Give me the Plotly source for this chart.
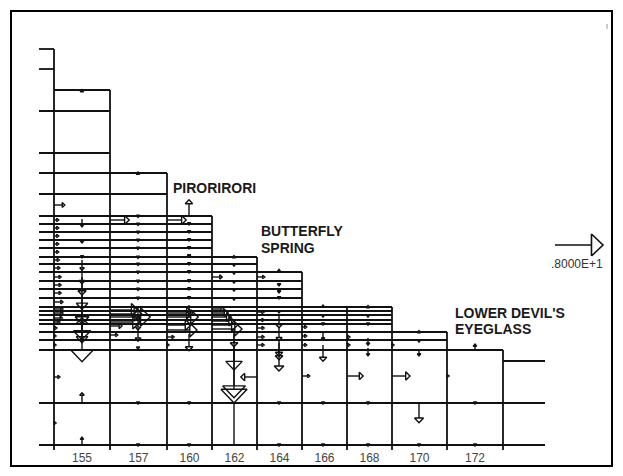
import math
import plotly.graph_objects as go

# ---------------- model grid (diagram units, x to the right, y downward) ----------------
col_edges = [54, 110, 167, 212, 257, 302, 347, 392, 447, 503, 545]
col_tops = [90, 173, 216, 257, 272, 307, 307, 332, 350, 361]
col_labels = ["155", "157", "160", "162", "164", "166", "168", "170", "172", ""]
stub_left = 39
stub_top = 49
layer_y = [49, 69, 111, 153, 173, 194, 216, 224, 232, 240, 248, 257, 264, 272, 281,
           289, 298, 307, 311, 315, 320, 324, 332, 340, 350, 403, 445]
tick_bottom = 450

# ---------------- velocity vectors: tail x, tail y, u (right +), v (down +) ----------------
SCALE = 6.0          # diagram units per velocity unit
LEGEND_VALUE = 8.0   # reference vector .8000E+1

# horizontal face vectors
hx = [54]*21 + [110]*7 + [167]*7 + [212]*7 + [257]*7 + [302]*4 + [347]*3 + [392]*2 + [447]
hy = [205, 220, 228, 236, 244, 252, 260, 268, 277, 285, 293, 302, 309, 313, 318, 322, 328, 336, 345, 377, 423,
      220, 310, 314, 317, 322, 326, 335,
      220, 313, 317, 325, 330, 337, 345,
      277, 309, 313, 317, 321, 325, 329,
      277, 312, 320, 328, 337, 345, 377,
      327, 336, 345, 376,
      337, 345, 376,
      345, 376,
      376]
hu = [1.8, 0.8, 0.8, 0.8, 0.8, 0.8, 0.9, 1.0, 1.2, 1.2, 1.2, 1.5, 1.5, 1.5, 1.4, 1.0, 0.5, 0.35, 0.35, 1.0, 0.35,
      3.2, 4.7, 5.3, 6.7, 5.0, 2.0, 1.3,
      3.2, 4.3, 5.2, 4.0, 5.0, 1.2, 0.35,
      1.7, 2.0, 2.7, 3.2, 3.7, 4.3, 5.0,
      1.3, 1.2, 1.2, 1.2, 1.2, 1.2, -2.7,
      0.8, 0.8, 0.8, 1.3,
      0.5, 0.5, 2.7,
      0.35, 3.0,
      0.35]

# vertical vectors at column centres
vx = ([82]*15 + [138]*18 + [189]*15 + [234]*10 + [279]*12 + [323]*7 + [368]*7 + [419]*5 + [475]*3)
vy = [92, 219, 240, 255, 260, 270, 277, 284, 294, 343, 302, 317, 312, 403, 445,
      175, 216, 224, 232, 240, 248, 257, 264, 272, 281, 289, 298, 308, 318, 328, 347, 402, 444,
      216, 222, 230, 238, 246, 254, 262, 270, 279, 287, 296, 305, 334, 402, 444,
      258, 264, 272, 281, 289, 298, 330, 334, 346, 348,
      273, 283, 290, 296, 310, 314, 327, 340, 343, 350, 402, 444,
      308, 315, 323, 332, 345, 402, 444,
      308, 315, 323, 338, 348, 402, 444,
      333, 340, 350, 403, 444,
      350, 402, 444]
vv = [-0.4, 1.3, 0.5, 0.5, 1.7, 2.3, 3.0, 4.2, 5.0, -4.2, 6.3, 4.3, 8.3, -1.7, -1.3,
      -0.5, 0.25, 0.25, 0.25, 0.25, 0.25, 0.25, 0.25, 0.25, 0.25, 0.25, 0.25, 2.0, 2.0, 2.2, 0.35, 0.35, 0.35,
      -2.7, 0.5, 0.5, 0.5, 0.5, 0.5, 0.5, 0.5, 0.5, 0.5, 0.5, 1.5, 2.8, 0.35, 0.35,
      -0.4, 0.35, 0.35, 0.35, 0.35, 0.35, 2.8, 6.0, 9.5, 8.3,
      -0.6, 0.5, 0.5, 0.5, 0.5, 2.3, 2.3, 2.7, 2.8, 3.5, 0.35, 0.35,
      -0.5, 0.35, 0.35, 1.3, 2.7, 0.35, 0.35,
      -0.4, 0.35, 0.35, 1.2, 1.3, 0.35, 0.35,
      -0.4, 0.35, 1.0, 3.3, 0.35,
      -1.0, 0.35, 0.35]
# the extra long down-vector at col 162 (bottom row) has only its stem showing
stem_x = [234]
stem_y0 = [403]
stem_y1 = [445]

titles = ["PIRORIRORI", "BUTTERFLY", "SPRING", "LOWER DEVIL'S", "EYEGLASS"]

# ---------------- build geometry ----------------
gx, gy = [], []


def seg(x0, y0, x1, y1, X, Y):
    X += [x0, x1, None]
    Y += [y0, y1, None]


for y in layer_y:
    right = col_edges[0]
    for j, t in enumerate(col_tops):
        if t <= y:
            right = col_edges[j + 1]
    seg(stub_left, y, right, y, gx, gy)
for j, t in enumerate(col_tops):
    seg(col_edges[j], t, col_edges[j + 1], t, gx, gy)
seg(col_edges[0], stub_top, col_edges[0], tick_bottom, gx, gy)
for j in range(1, len(col_edges) - 1):
    seg(col_edges[j], col_tops[j - 1], col_edges[j], tick_bottom, gx, gy)

ax_, ay_ = [], []


def arrow(x, y, u, v, X, Y):
    dx, dy = u * SCALE, v * SCALE
    L = math.hypot(dx, dy)
    if L == 0:
        return
    ux, uy = dx / L, dy / L
    nx, ny = -uy, ux
    hl = max(0.24 * L, 2.2)
    hw = max(0.23 * L, 1.8)
    tx, ty = x + dx, y + dy
    bx, by = tx - hl * ux, ty - hl * uy
    if L > hl:
        seg(x, y, bx, by, X, Y)
    X += [bx + hw * nx, tx, bx - hw * nx, bx + hw * nx, None]
    Y += [by + hw * ny, ty, by - hw * ny, by + hw * ny, None]


for x, y, u in zip(hx, hy, hu):
    arrow(x, y, u, 0, ax_, ay_)
for x, y, v in zip(vx, vy, vv):
    arrow(x, y, 0, v, ax_, ay_)
for x, y0, y1 in zip(stem_x, stem_y0, stem_y1):
    seg(x, y0, x, y1, ax_, ay_)

lx, ly = [], []
arrow(555, 245, LEGEND_VALUE, 0, lx, ly)

fig = go.Figure()
fig.add_trace(go.Scatter(x=gx, y=gy, mode="lines", line=dict(color="#111111", width=1.8),
                         hoverinfo="skip", showlegend=False))
fig.add_trace(go.Scatter(x=ax_, y=ay_, mode="lines", line=dict(color="#111111", width=1.4),
                         hoverinfo="skip", showlegend=False))
fig.add_trace(go.Scatter(x=lx, y=ly, mode="lines", line=dict(color="#111111", width=1.6),
                         hoverinfo="skip", showlegend=False))

centers = [(col_edges[j] + col_edges[j + 1]) / 2 for j in range(len(col_tops))]
fig.add_trace(go.Scatter(x=centers, y=[459] * len(centers), mode="text", text=col_labels,
                         textposition="middle center",
                         textfont=dict(family="Liberation Sans, Arial", size=12, color="#444444"),
                         hoverinfo="skip", showlegend=False))

title_pos = [(171, 188), (259, 231), (259, 248), (453, 313), (453, 329)]
for t, (x, y) in zip(titles, title_pos):
    fig.add_annotation(x=x, y=y, text="<b>" + t + "</b>", showarrow=False, xanchor="left", yanchor="middle",
                       font=dict(family="Liberation Sans, Arial", size=14, color="#1a1a1a"))
fig.add_annotation(x=577, y=264, text=".8000E+1", showarrow=False, xanchor="center", yanchor="middle",
                   font=dict(family="Liberation Sans, Arial", size=12, color="#333333"))

fig.add_shape(type="rect", x0=11, y0=11, x1=612, y1=466, line=dict(color="black", width=2))
fig.add_shape(type="line", x0=607, y0=24, x1=607, y1=29, line=dict(color="#999999", width=1))

# the page body has an 8px margin: make the figure fill the remaining window
fig.update_xaxes(range=[8, 623], visible=False, fixedrange=True)
fig.update_yaxes(range=[476, 8], visible=False, fixedrange=True)
fig.update_layout(width=615, height=468, margin=dict(l=0, r=0, t=0, b=0),
                  plot_bgcolor="white", paper_bgcolor="white")
fig.write_html("out.html")
